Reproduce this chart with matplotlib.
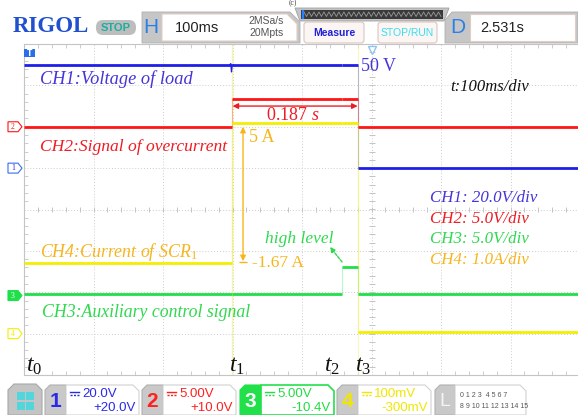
import matplotlib.pyplot as plt
import matplotlib.patches as mpatches
import numpy as np

plt.rcParams['mathtext.fontset'] = 'custom'
plt.rcParams['mathtext.rm'] = 'Liberation Serif'
plt.rcParams['mathtext.it'] = 'Liberation Serif:italic'

W, H = 578, 415

# time axis: ms, 100 ms/div
t_marks = [0, 299, 457, 481]
t_names = ['$t_0$', '$t_1$', '$t_2$', '$t_3$']
edges = [0, 299, 457, 481, 797]

# channel levels on each interval between the edges
ch1_volts = [50, 50, 50, 0]
ch2_volts = [0, 3.35, 3.35, 0]
ch3_volts = [0.2, 0.2, 3.45, 0.2]
ch4_amps = [1.7, 5.1, 5.1, 0.05]
glitch_t = [296, 297.5, 298.5, 299.5, 301]
glitch_v = [50, 50.5, 46.5, 49.5, 50]

names = ['CH1', 'CH2', 'CH3', 'CH4']
per_div = [20.0, 5.0, 5.0, 1.0]
offset_div = [1.0, 2.0, -2.08, -3.0]
trace_col = ['#1e1ee8', '#ff1515', '#1fe04a', '#f2ef00']
text_col = ['#4534d8', '#ee1c24', '#2fd94f', '#f7b51c']
scale_txt = ['20.0V', '5.00V', '5.00V', '100mV']
offs_txt = ['+20.0V', '+10.0V', '-10.4V', '-300mV']
legend_txt = ['CH1: 20.0V/div', 'CH2: 5.0V/div', 'CH3: 5.0V/div', 'CH4: 1.0A/div']
levels = [ch1_volts, ch2_volts, ch3_volts, ch4_amps]


def to_div(i, v):
    return np.asarray(v) / per_div[i] + offset_div[i]


def px(x, y):
    # screen pixel -> scope data (ms, div)
    return (x - 24) / 69.5 * 100, (209.5 - y) / 41.4


fig = plt.figure(figsize=(W / 100, H / 100), dpi=100)
bg = fig.add_axes([0, 0, 1, 1])
bg.set_xlim(0, W)
bg.set_ylim(H, 0)
bg.axis('off')

ax = fig.add_axes([24 / W, 40 / H, (W - 24) / W, 331 / H])
ax.set_zorder(2)
ax.set_xlim(0, 797)
ax.set_ylim(-4, 4)
ax.spines['right'].set_visible(False)
for s in ['top', 'bottom', 'left']:
    ax.spines[s].set_color('#c4c4c4')
    ax.spines[s].set_linewidth(0.8)
ax.set_xticks(np.arange(0, 800, 100))
ax.set_yticks(np.arange(-4, 5, 1))
ax.grid(True, color='#cdcdcd', ls=(0, (1, 2)), lw=0.7)
ax.tick_params(which='major', length=0, labelbottom=False, labelleft=False)
ax.set_xticks(np.arange(0, 797, 20), minor=True)
ax.set_yticks(np.arange(-4, 4.01, 0.2), minor=True)
ax.tick_params(which='minor', direction='in', length=3, color='#c4c4c4',
               top=True, bottom=True, left=True)
# ticks along the centre lines
ax.vlines(np.arange(0, 797, 20), -0.07, 0.07, color='#c4c4c4', lw=0.7)
ax.hlines(np.arange(-4, 4.01, 0.2), 500 - 4.3, 500 + 4.3, color='#c4c4c4', lw=0.7)

# faint edges
ax.axvline(t_marks[1], color='#f4f06a', lw=0.9, alpha=0.6)
ax.axvline(t_marks[3], color='#f4f2a0', lw=0.9, alpha=0.6)

# traces
for i in range(4):
    y = to_div(i, levels[i])
    ax.hlines(y, edges[:-1], edges[1:], color=trace_col[i], lw=2.0, zorder=4)
    for k in range(1, len(y)):
        if y[k] != y[k - 1]:
            ax.vlines(edges[k], y[k - 1], y[k], color=trace_col[i], lw=0.8,
                      alpha=0.3, zorder=3)
ax.plot(glitch_t, to_div(0, glitch_v), color=trace_col[0], lw=0.9, zorder=4)

# channel markers on the left
for i in range(4):
    yc = offset_div[i]
    x0, _ = px(8, 0)
    x1, _ = px(18, 0)
    x2, _ = px(22, 0)
    hh = 0.12
    filled = i == 2
    poly = mpatches.Polygon([(x0, yc - hh), (x1, yc - hh), (x2, yc), (x1, yc + hh), (x0, yc + hh)],
                            closed=True, fc=trace_col[i] if filled else 'white',
                            ec=trace_col[i] if i != 0 else '#3a6ee8', lw=0.8, clip_on=False, zorder=5)
    ax.add_patch(poly)
    ax.text((x0 + x1) / 2, yc, str(i + 1), fontsize=5.5, ha='center', va='center',
            color='white' if filled else trace_col[i], clip_on=False,
            family='Liberation Serif', zorder=6)

# trigger tag and trigger position
tx0, ty0 = px(24, 49)
tx1, ty1 = px(35, 57)
ax.add_patch(mpatches.Rectangle((tx0, ty1), tx1 - tx0, ty0 - ty1, fc='#2a6ee8', ec='none', zorder=5))
ax.text((tx0 + tx1) / 2, (ty0 + ty1) / 2, 'T', color='white', fontsize=5.5, ha='center',
        va='center', fontweight='bold', zorder=6)
ax.plot(500, 3.85, marker='v', ms=6, mfc='white', mec='#8cc4f0', mew=1.0, clip_on=False, zorder=6)

# labels
serif = 'Liberation Serif'
lab = [('CH1:Voltage of load', 40, 84, 0, 13.2),
       ('CH2:Signal of overcurrent', 40, 151, 1, 12.6),
       ('CH4:Current of SCR$_1$', 40, 257, 3, 12.8),
       ('CH3:Auxiliary control signal', 42, 317, 2, 12.8)]
for s, x, y, i, fs in lab:
    ax.text(*px(x, y), s, color=text_col[i], fontsize=fs, family=serif, style='italic', va='baseline')

for i in range(4):
    ax.text(*px(430, 202 + 20.7 * i), legend_txt[i], color=text_col[i], fontsize=12.2,
            family=serif, style='italic', va='baseline')

ax.text(*px(450, 91), 't:100ms/div', color='#111111', fontsize=12, family=serif,
        style='italic', va='baseline')
ax.text(*px(361, 71), '50 V', color=text_col[0], fontsize=13, family=serif, va='baseline')

# 0.187 s arrow
ya = px(0, 106)[1]
ax.annotate('', xy=(t_marks[1] + 1, ya), xytext=(t_marks[3] - 1, ya),
            arrowprops=dict(arrowstyle='<|-|>', color='#ee1c24', lw=1.0, mutation_scale=8,
                            shrinkA=0, shrinkB=0))
ax.text((t_marks[1] + t_marks[3]) / 2 - 3, px(0, 120)[1], '0.187 $s$', color='#ee1c24',
        fontsize=13, family=serif, ha='center', va='baseline')

# 5 A / -1.67 A arrow
xa = px(243, 0)[0]
y_hi = to_div(3, ch4_amps[1]) - 0.1
y_lo = to_div(3, ch4_amps[0]) + 0.05
ax.annotate('', xy=(xa, y_hi), xytext=(xa, y_lo),
            arrowprops=dict(arrowstyle='<|-|>', color='#f7b51c', lw=1.0, mutation_scale=8,
                            shrinkA=0, shrinkB=0))
ax.hlines(y_lo - 0.02, xa - 6, xa + 6, color='#f7b51c', lw=1.0)
ax.text(*px(249, 142), '5 A', color='#f7b51c', fontsize=13, family=serif, va='baseline')
ax.text(*px(252, 267), '-1.67 A', color='#f7b51c', fontsize=12.5, family=serif, va='baseline')

# high level
ax.text(*px(265, 243), 'high level', color='#2fd94f', fontsize=12.5, family=serif,
        style='italic', va='baseline')
ax.annotate('', xy=px(330, 247), xytext=px(342, 262),
            arrowprops=dict(arrowstyle='-|>', color='#2fd94f', lw=1.0, ls=(0, (2, 1)),
                            mutation_scale=7, shrinkA=0, shrinkB=0))

# time marks
shift = [2, -3, -18, -3]
for t, s, dx in zip(t_marks, t_names, shift):
    ax.text(t + dx / 69.5 * 100, px(0, 372)[1], s, color='#111111', fontsize=17,
            family=serif, va='baseline', zorder=6)

# ---------- top bar ----------
bg.text(13, 27, 'RIGOL', color='#2050d0', fontsize=16.5, family=serif, fontweight='bold', va='center')
bg.add_patch(mpatches.FancyBboxPatch((96, 20), 40, 15, boxstyle='round,pad=0,rounding_size=7',
                                     fc='#bdbdbd', ec='none'))
bg.text(116, 27.8, 'STOP', color='#1aafa0', fontsize=8, fontweight='bold', ha='center',
        va='center', family='Liberation Sans')

bg.add_patch(mpatches.Polygon([(142, 12), (290, 12), (300, 22), (300, 43), (142, 43)], fc='#c6c6c6', ec='#b0b0b0', lw=0.6))
bg.add_patch(mpatches.Polygon([(162, 14), (287, 14), (297, 24), (297, 41), (162, 41)], fc='white', ec='#e2cdc6', lw=0.8))
bg.text(151, 27.5, 'H', color='#2a80e6', fontsize=15, ha='center', va='center', family='Liberation Sans')
bg.text(175, 28, '100ms', color='#222222', fontsize=10.5, va='center', family='Liberation Sans')
bg.text(284, 21, '2MSa/s', color='#555555', fontsize=7.5, ha='right', va='center', family='Liberation Sans')
bg.text(284, 33, '20Mpts', color='#555555', fontsize=7.5, ha='right', va='center', family='Liberation Sans')

bg.add_patch(mpatches.Polygon([(295, 8), (449, 8), (444, 21), (300, 21)], fc='#c4c4c4', ec='#a0a0a0', lw=0.6))
bg.add_patch(mpatches.Rectangle((301, 10), 142, 9, fc='#3a3a3a', ec='none'))
zx = np.linspace(304, 441, 56)
zy = np.tile([12, 16.5], 28)
bg.plot(zx, zy, color='#9a9a9a', lw=0.6)
bg.plot([302.5, 302.5], [11, 18], color='#2a7fff', lw=1.6)

bg.add_patch(mpatches.FancyBboxPatch((304, 22), 60, 21, boxstyle='round,pad=0,rounding_size=3',
                                     fc='#fbf6f4', ec='#d8c6c0', lw=0.8))
bg.text(334, 33, 'Measure', color='#2020d8', fontsize=7.5, fontweight='bold', ha='center',
        va='center', family='Liberation Sans')
bg.add_patch(mpatches.FancyBboxPatch((378, 22), 59, 21, boxstyle='round,pad=0,rounding_size=3',
                                     fc='#fbf6f4', ec='#d8c6c0', lw=0.8))
bg.text(407.5, 33, 'STOP/RUN', color='#38dff0', fontsize=7.5, ha='center', va='center',
        family='Liberation Sans')

bg.add_patch(mpatches.Polygon([(445, 20), (452, 12), (578, 12), (578, 43), (445, 43)], fc='#c6c6c6', ec='#b0b0b0', lw=0.6))
bg.add_patch(mpatches.Rectangle((470, 14), 105, 27, fc='white', ec='#e2cdc6', lw=0.8))
bg.text(458, 27.5, 'D', color='#2a80e6', fontsize=15, ha='center', va='center', family='Liberation Sans')
bg.text(480, 28, '2.531s', color='#222222', fontsize=10.5, va='center', family='Liberation Sans')
bg.text(293, 3.5, '(c)', color='#444444', fontsize=5.5, ha='center', va='center', family=serif)

# ---------- bottom bar ----------
bg.add_patch(mpatches.Polygon([(8, 390), (14, 384), (36, 384), (42, 390), (42, 415), (8, 415)],
                              fc='#c4c4c4', ec='#a8a8a8', lw=0.8))
for sx, sy in [(16.5, 392), (26, 392), (16.5, 401.5), (26, 401.5)]:
    bg.add_patch(mpatches.Rectangle((sx, sy), 8, 8, fc='#52d6dc', ec='none'))

box_x = [45, 142, 240, 337]
box_txt = ['#2a2ae8', '#ff2020', '#22dd44', '#f2e600']
for i, x0 in enumerate(box_x):
    green = i == 2
    bg.add_patch(mpatches.Polygon([(x0, 390), (x0 + 5, 385), (x0 + 21, 385), (x0 + 21, 415), (x0, 415)],
                                  fc='#22e04a' if green else '#c9c9c9', ec='#22e04a' if green else '#b0b0b0', lw=0.8))
    bg.add_patch(mpatches.Polygon([(x0 + 21, 385), (x0 + 88, 385), (x0 + 94, 391), (x0 + 94, 415), (x0 + 21, 415)],
                                  fc='white', ec='#22e04a' if green else '#d2d2d2', lw=1.2 if green else 0.8))
    bg.text(x0 + 10.5, 401, str(i + 1), color='white' if green else box_txt[i], fontsize=15,
            fontweight='bold', ha='center', va='center', family='Liberation Sans')
    bg.plot([x0 + 25, x0 + 34], [392, 392], color=box_txt[i], lw=1.0)
    bg.plot([x0 + 25, x0 + 34], [394.5, 394.5], color=box_txt[i], lw=1.0, ls=(0, (1.5, 1)))
    bg.text(x0 + 37, 394, scale_txt[i], color=box_txt[i], fontsize=9.5, va='center', family='Liberation Sans')
    bg.text(x0 + 91, 408, offs_txt[i], color=box_txt[i], fontsize=9.5, ha='right', va='center',
            family='Liberation Sans')

bg.add_patch(mpatches.Polygon([(435, 390), (440, 385), (455, 385), (455, 415), (435, 415)], fc='#c9c9c9', ec='#b0b0b0', lw=0.8))
bg.add_patch(mpatches.Polygon([(455, 385), (520, 385), (526, 391), (526, 415), (455, 415)], fc='white', ec='#d2d2d2', lw=0.8))
bg.text(445, 401, 'L', color='#f4f4f4', fontsize=14, ha='center', va='center', family='Liberation Sans')
bg.text(460, 395, '0 1 2 3  4 5 6 7', color='#555555', fontsize=5, va='center', family='Liberation Sans')
bg.text(460, 406, '8 9 10 11 12 13 14 15', color='#555555', fontsize=5, va='center', family='Liberation Sans')

fig.savefig('out.png', dpi=100)
